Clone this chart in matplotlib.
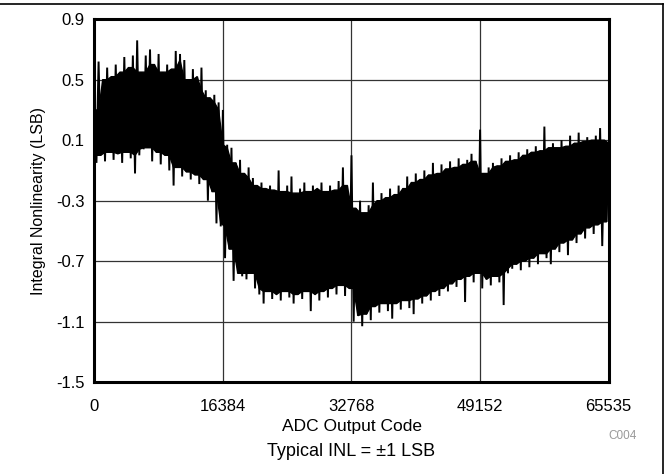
import numpy as np
import matplotlib
matplotlib.use("Agg")
import matplotlib.pyplot as plt
from matplotlib.lines import Line2D

plt.rcParams['font.family'] = ['Liberation Sans', 'DejaVu Sans']
plt.rcParams['axes.unicode_minus'] = False

# ---- data ----
code_max = 65535
x_ticks = [0, 16384, 32768, 49152, 65535]
y_ticks = [-1.5, -1.1, -0.7, -0.3, 0.1, 0.5, 0.9]

# local maxima of the INL trace (one per sample step, left to right)
inl_high = [
    0.30, 0.62, 0.50, 0.58, 0.52, 0.60, 0.55, 0.65, 0.58, 0.66,
    0.76, 0.55, 0.66, 0.70, 0.60, 0.67, 0.55, 0.60, 0.57, 0.69,
    0.67, 0.63, 0.50, 0.57, 0.52, 0.58, 0.43, 0.38, 0.40, 0.35,
    0.30, 0.07, 0.05, -0.05, -0.03, -0.12, -0.08, -0.15, -0.20, -0.18,
    -0.22, -0.20, -0.23, -0.10, -0.24, -0.20, -0.14, -0.25, -0.22, -0.18,
    -0.24, -0.20, -0.22, -0.18, -0.24, -0.20, -0.23, -0.17, -0.08, -0.20,
    0.00, -0.35, -0.30, -0.38, -0.33, -0.18, -0.30, -0.25, -0.28, -0.22,
    -0.26, -0.20, -0.22, -0.14, -0.18, -0.12, -0.16, -0.10, -0.13, -0.05,
    -0.12, -0.06, -0.09, -0.04, -0.08, -0.02, -0.06, -0.03, 0.01, -0.04,
    0.17, -0.12, -0.08, -0.05, -0.07, -0.02, -0.04, 0.00, -0.03, 0.02,
    0.00, 0.04, 0.02, 0.06, 0.03, 0.19, 0.05, 0.08, 0.05, 0.10,
    0.06, 0.13, 0.08, 0.15, 0.09, 0.12, 0.10, 0.13, 0.18, 0.10,
]
# local minima of the INL trace (between successive maxima)
inl_low = [
    -0.05, 0.00, -0.04, 0.02, -0.03, 0.01, -0.05, 0.02, -0.02, -0.12,
    0.00, 0.04, 0.05, -0.04, 0.02, -0.06, 0.00, -0.10, -0.20, -0.08,
    -0.14, -0.11, -0.16, -0.13, -0.19, -0.16, -0.30, -0.24, -0.45, -0.47,
    -0.68, -0.62, -0.83, -0.78, -0.80, -0.82, -0.78, -0.88, -0.92, -0.98,
    -0.90, -0.95, -0.92, -0.96, -0.90, -0.94, -0.98, -0.92, -0.95, -0.90,
    -1.03, -0.92, -0.96, -0.90, -0.94, -0.88, -0.92, -0.86, -0.93, -0.88,
    -1.10, -1.06, -1.13, -1.05, -1.09, -1.00, -1.04, -0.98, -1.03, -1.08,
    -0.98, -1.02, -0.96, -1.01, -1.05, -0.95, -0.98, -0.93, -0.96, -0.90,
    -0.93, -0.88, -0.90, -0.85, -0.87, -0.82, -0.97, -0.80, -0.84, -0.78,
    -0.88, -0.82, -0.86, -0.80, -0.84, -0.99, -0.78, -0.75, -0.72, -0.76,
    -0.70, -0.74, -0.68, -0.72, -0.65, -0.68, -0.72, -0.62, -0.64, -0.58,
    -0.66, -0.56, -0.58, -0.52, -0.55, -0.48, -0.52, -0.46, -0.60, -0.44,
]
inl_end = 0.08

# ---- build trace ----
high = np.array(inl_high)
low = np.array(inl_low)
n = len(high)
step = code_max / n
x_high = np.arange(n) * step
x_low = (np.arange(n) + 0.5) * step

codes = np.empty(2 * n + 1)
vals = np.empty(2 * n + 1)
codes[0:-1:2], codes[1:-1:2], codes[-1] = x_high, x_low, code_max
vals[0:-1:2], vals[1:-1:2], vals[-1] = high, low, inl_end

# solid body of the dense trace: only the tallest excursions stick out
hp = np.pad(high, 1, mode='edge')
lp = np.pad(low, 1, mode='edge')
top_edge = np.minimum(np.minimum(hp[:-2], hp[1:-1]), hp[2:])
bot_edge = np.maximum(np.maximum(lp[:-2], lp[1:-1]), lp[2:])

# ---- figure ----
fig = plt.figure(figsize=(6.65, 4.74), dpi=100)
ax = fig.add_axes([0.1418, 0.1937, 0.7735, 0.7658])

ax.fill(np.r_[x_high, code_max, x_low[::-1]],
        np.r_[top_edge, inl_end, bot_edge[::-1]],
        color='black', lw=1.0, zorder=3)
ax.plot(codes, vals, color='black', lw=1.4, zorder=4, solid_joinstyle='miter')

ax.set_xlim(0, code_max)
ax.set_ylim(-1.5, 0.9)
ax.set_xticks(x_ticks)
ax.set_xticklabels([str(t) for t in x_ticks])
ax.set_yticks(y_ticks)
ax.set_yticklabels([f"{t:.1f}" for t in y_ticks])
ax.tick_params(axis='both', length=0, labelsize=12, colors='black')
ax.tick_params(axis='x', pad=12)
ax.tick_params(axis='y', pad=7)
ax.grid(True, color='#333333', lw=0.9, zorder=1)
ax.set_axisbelow(True)
for s in ax.spines.values():
    s.set_linewidth(2.2)
    s.set_color('black')
    s.set_zorder(6)

ax.set_ylabel('Integral Nonlinearity (LSB)', fontsize=11.5, labelpad=10)
ax.yaxis.set_label_coords(-0.0935, 0.5)

fig.text(352 / 665, 1 - 427 / 474, 'ADC Output Code', ha='center', va='center', fontsize=12.5)
fig.text(637 / 665, 1 - 436 / 474, 'C004', ha='right', va='center', fontsize=8.5, color='#999999')
fig.text(351 / 665, 1 - 452 / 474, 'Typical INL = ±1 LSB', ha='center', va='center', fontsize=13)

# outer frame (top and right edges)
fig.add_artist(Line2D([0, 663 / 665], [1 - 4 / 474, 1 - 4 / 474], transform=fig.transFigure, color='black', lw=1.2))
fig.add_artist(Line2D([663 / 665, 663 / 665], [1 - 4 / 474, 0], transform=fig.transFigure, color='black', lw=1.2))

fig.savefig('out.png', dpi=100)
